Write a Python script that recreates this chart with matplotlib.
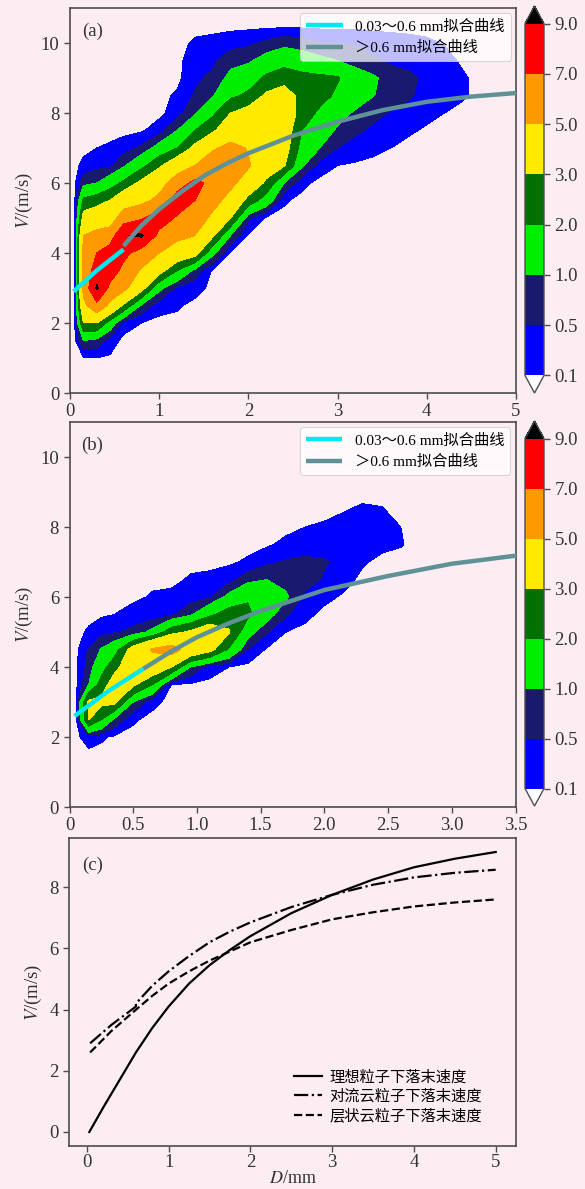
import numpy as np
import matplotlib
matplotlib.use("Agg")
import matplotlib.pyplot as plt
from matplotlib.colors import ListedColormap, BoundaryNorm
from matplotlib.cm import ScalarMappable

plt.rcParams["font.family"] = ["Liberation Serif", "Noto Sans CJK SC"]
plt.rcParams["mathtext.fontset"] = "stix"
plt.rcParams["font.size"] = 13.5

# ─── Data ─────────────────────────────────────────────────────────────────────

v_rows = np.arange(0.5, 10.51, 0.5)          # V grid (m/s)
levels = [0.1, 0.5, 1.0, 2.0, 3.0, 5.0, 7.0, 9.0]
level_colors = ["#0000ff", "#191970", "#00ee00", "#007000",
                "#ffea00", "#ff9900", "#ff0000"]

# panel (a) density columns: (D, first V, values upward in 0.5 steps)
dens_a = [
    (0.05, 0.5, []),
    (0.15, 1.0, [0.05, 1.0, 3.0, 4.5, 5.5, 5.5, 5.5, 5.0, 3.5, 2.2, 0.8, 0.2, 0.0]),
    (0.30, 1.0, [0.1, 0.8, 3.0, 6.5, 9.3, 8.0, 7.0, 5.5, 4.0, 2.5, 1.0, 0.35, 0.1, 0.0]),
    (0.45, 1.0, [0.05, 0.3, 1.5, 4.5, 6.5, 8.0, 8.0, 6.0, 4.0, 3.05, 1.5, 0.4, 0.15, 0.0]),
    (0.60, 1.5, [0.0, 0.3, 2.8, 5.5, 6.5, 7.5, 8.9, 6.0, 4.0, 2.2, 0.9, 0.3, 0.0]),
    (0.80, 2.0, [0.1, 0.9, 3.5, 4.8, 6.2, 9.3, 6.8, 4.5, 3.3, 1.7, 0.6, 0.05, 0.0]),
    (1.00, 2.0, [0.0, 0.25, 1.2, 3.5, 5.0, 6.5, 8.0, 5.5, 4.2, 2.8, 1.3, 0.3, 0.0]),
    (1.20, 2.0, [0.0, 0.15, 0.4, 2.0, 4.0, 5.5, 6.8, 8.0, 6.0, 4.0, 2.0, 1.0, 0.3, 0.15, 0.0]),
    (1.40, 2.5, [0.0, 0.25, 0.8, 3.5, 5.0, 6.3, 7.0, 7.5, 5.0, 3.3, 2.0, 0.9, 0.55, 0.4, 0.3, 0.15, 0.0]),
    (1.60, 3.0, [0.0, 0.05, 1.2, 3.2, 4.5, 5.8, 6.5, 6.0, 4.8, 2.8, 1.8, 0.95, 0.6, 0.4, 0.2, 0.0]),
    (1.80, 3.5, [0.0, 0.05, 1.0, 3.0, 4.2, 5.5, 6.2, 5.5, 4.0, 3.0, 1.8, 1.2, 0.8, 0.3, 0.0]),
    (2.00, 4.0, [0.0, 0.05, 0.6, 2.6, 4.0, 5.2, 4.9, 4.2, 3.5, 2.2, 1.5, 0.9, 0.4, 0.0]),
    (2.20, 4.5, [0.0, 0.05, 1.5, 2.8, 3.6, 4.0, 4.0, 3.8, 3.2, 2.2, 1.3, 0.6, 0.0]),
    (2.40, 5.0, [0.0, 0.15, 1.0, 3.1, 3.6, 3.8, 3.8, 3.5, 2.6, 1.6, 0.8, 0.0]),
    (2.60, 5.5, [0.0, 0.2, 1.1, 1.6, 2.0, 2.6, 2.7, 2.3, 1.4, 0.7, 0.0]),
    (2.80, 6.0, [0.0, 0.3, 1.0, 1.4, 1.8, 2.4, 2.2, 1.2, 0.5, 0.0]),
    (3.00, 6.0, [0.0, 0.1, 0.5, 0.9, 1.3, 1.8, 2.1, 1.0, 0.5, 0.0]),
    (3.20, 6.5, [0.05, 0.3, 0.6, 0.9, 1.4, 1.3, 0.8, 0.45, 0.0]),
    (3.40, 6.5, [0.0, 0.2, 0.4, 0.65, 1.02, 1.1, 0.6, 0.3, 0.0]),
    (3.60, 6.5, [0.0, 0.1, 0.3, 0.45, 0.8, 0.75, 0.4, 0.25, 0.0]),
    (3.80, 7.0, [0.0, 0.15, 0.35, 0.55, 0.6, 0.35, 0.2, 0.0]),
    (4.00, 7.5, [0.05, 0.2, 0.35, 0.4, 0.3, 0.15, 0.0]),
    (4.20, 7.5, [0.0, 0.1, 0.25, 0.3, 0.2, 0.08, 0.0]),
    (4.40, 8.0, [0.0, 0.15, 0.15, 0.05, 0.0]),
    (4.60, 0.5, []),
]

# panel (b) density columns
dens_b = [
    (0.05, 0.5, []),
    (0.15, 1.5, [0.0, 0.3, 3.05, 3.2, 1.0, 0.7, 0.55, 0.15, 0.0]),
    (0.25, 1.5, [0.0, 0.15, 2.0, 3.3, 2.4, 1.6, 1.05, 0.35, 0.05, 0.0]),
    (0.35, 2.0, [0.05, 0.9, 3.3, 3.6, 2.6, 1.5, 0.45, 0.1, 0.0]),
    (0.50, 2.0, [0.0, 0.15, 1.0, 3.2, 4.0, 3.6, 0.6, 0.3, 0.0]),
    (0.65, 2.5, [0.0, 0.2, 2.0, 4.0, 5.2, 1.2, 0.2, 0.15, 0.0]),
    (0.80, 3.0, [0.0, 0.1, 3.0, 5.8, 2.6, 0.4, 0.2, 0.0]),
    (0.95, 3.5, [0.05, 1.0, 4.2, 3.2, 0.9, 0.3, 0.15, 0.0]),
    (1.10, 3.5, [0.0, 0.3, 3.4, 4.0, 1.8, 0.45, 0.2, 0.0]),
    (1.25, 3.5, [0.0, 0.1, 1.9, 3.1, 2.5, 1.2, 0.3, 0.05, 0.0]),
    (1.40, 4.0, [0.0, 0.5, 1.3, 2.2, 1.9, 0.8, 0.15, 0.0]),
    (1.55, 4.5, [0.05, 0.55, 1.3, 1.6, 1.0, 0.4, 0.05, 0.0]),
    (1.70, 4.5, [0.0, 0.1, 0.55, 1.1, 0.8, 0.55, 0.2, 0.0]),
    (1.85, 5.0, [0.0, 0.2, 0.4, 0.7, 0.6, 0.3, 0.1, 0.0]),
    (2.00, 5.5, [0.0, 0.2, 0.45, 0.55, 0.3, 0.15, 0.0]),
    (2.15, 6.0, [0.05, 0.25, 0.35, 0.3, 0.2, 0.08, 0.0]),
    (2.30, 6.5, [0.0, 0.15, 0.25, 0.25, 0.15, 0.0]),
    (2.45, 7.0, [0.0, 0.2, 0.22, 0.12, 0.0]),
    (2.60, 7.0, [0.0, 0.12, 0.1, 0.0]),
    (2.75, 0.5, []),
]

# fitted curves (convective = a, stratiform = b)
conv_small_d = [0.04, 0.3, 0.6]
conv_small_v = [2.9, 3.5, 4.1]
conv_big_d = [0.6, 0.8, 1.0, 1.25, 1.5, 1.75, 2.0, 2.5, 3.0, 3.5, 4.0, 4.5, 5.0]
conv_big_v = [4.2, 4.78, 5.25, 5.75, 6.2, 6.55, 6.85, 7.35, 7.75, 8.08, 8.32, 8.47, 8.57]

strat_small_d = [0.04, 0.3, 0.58]
strat_small_v = [2.6, 3.3, 3.95]
strat_big_d = [0.58, 0.8, 1.0, 1.25, 1.5, 1.75, 2.0, 2.5, 3.0, 3.5, 4.0, 4.5, 5.0]
strat_big_v = [3.95, 4.45, 4.85, 5.25, 5.6, 5.9, 6.2, 6.6, 6.95, 7.18, 7.37, 7.5, 7.6]

ideal_d = [0.03, 0.2, 0.4, 0.6, 0.8, 1.0, 1.25, 1.5, 1.75, 2.0, 2.5, 3.0, 3.5, 4.0, 4.5, 5.0]
ideal_v = [0.0, 0.8, 1.7, 2.6, 3.4, 4.1, 4.85, 5.45, 5.95, 6.4, 7.15, 7.75, 8.25, 8.65, 8.93, 9.15]

lbl_small = "0.03～0.6 mm拟合曲线"
lbl_big = "＞0.6 mm拟合曲线"
lbl_ideal = "理想粒子下落末速度"
lbl_conv = "对流云粒子下落末速度"
lbl_strat = "层状云粒子下落末速度"

# ─── Helpers ──────────────────────────────────────────────────────────────────

BG = "#fcedf3"
EDGE = "#4d4d4d"
W, H = 585, 1189


def box(l, t, r, b):
    return [l / W, 1 - b / H, (r - l) / W, (b - t) / H]


def build_grid(columns):
    z = np.zeros((len(v_rows), len(columns)))
    for j, (_, v0, vals) in enumerate(columns):
        i0 = int(round((v0 - v_rows[0]) / 0.5))
        z[i0:i0 + len(vals), j] = vals
    return np.array([c[0] for c in columns]), z


def style(ax):
    for s in ax.spines.values():
        s.set_color(EDGE)
        s.set_linewidth(1.2)
    ax.set_facecolor("none")
    ax.tick_params(direction="out", length=4, width=1, color=EDGE, labelcolor="#333333")


cmap = ListedColormap(level_colors)
cmap.set_over("black")
cmap.set_under("white")
norm = BoundaryNorm(levels, cmap.N)


def density_panel(ax, cax, columns, xmax, tag):
    d, z = build_grid(columns)
    ax.contourf(d, v_rows, z, levels=levels, cmap=cmap, norm=norm, extend="max")
    ax.plot(conv_small_d if tag == "(a)" else strat_small_d,
            conv_small_v if tag == "(a)" else strat_small_v,
            color="#00e8f0", lw=3.2, label=lbl_small, solid_capstyle="butt", zorder=3)
    ax.plot(conv_big_d if tag == "(a)" else strat_big_d,
            conv_big_v if tag == "(a)" else strat_big_v,
            color="#5f9297", lw=3.2, label=lbl_big, solid_capstyle="butt", zorder=3)
    ax.set_xlim(0, xmax)
    ax.set_ylim(0, 11)
    ax.set_yticks([0, 2, 4, 6, 8, 10])
    ax.set_ylabel(r"$V$/(m/s)", color="#333333")
    ax.text(0.027, 0.94, tag, transform=ax.transAxes, ha="left", va="center", color="#333333")
    leg = ax.legend(loc="upper right", fontsize=11, handlelength=2.4,
                    borderaxespad=0.35, framealpha=0.75, edgecolor="#cccccc", fancybox=True)
    leg.get_frame().set_linewidth(0.8)
    style(ax)

    cb = plt.colorbar(ScalarMappable(norm=norm, cmap=cmap), cax=cax,
                      extend="both", ticks=levels, format="%.1f")
    cb.outline.set_edgecolor(EDGE)
    cb.outline.set_linewidth(1.0)
    cax.tick_params(length=4, width=1, color=EDGE, labelcolor="#333333")


# ─── Figure ───────────────────────────────────────────────────────────────────

fig = plt.figure(figsize=(W / 100, H / 100), dpi=100, facecolor=BG)

ax_a = fig.add_axes(box(70, 8, 516, 393))
cax_a = fig.add_axes(box(525, 6, 544, 393))
density_panel(ax_a, cax_a, dens_a, 5, "(a)")
ax_a.set_xticks([0, 1, 2, 3, 4, 5])

ax_b = fig.add_axes(box(69.5, 422, 515.5, 807))
cax_b = fig.add_axes(box(525, 421, 544, 806))
density_panel(ax_b, cax_b, dens_b, 3.5, "(b)")
ax_b.set_xticks([0, 0.5, 1.0, 1.5, 2.0, 2.5, 3.0, 3.5])
ax_b.set_xticklabels(["0", "0.5", "1.0", "1.5", "2.0", "2.5", "3.0", "3.5"])

ax_c = fig.add_axes(box(69, 838, 516, 1146))
ax_c.plot(ideal_d, ideal_v, color="black", lw=1.6, ls="-", label=lbl_ideal)
ax_c.plot(conv_small_d + conv_big_d, conv_small_v + conv_big_v,
          color="black", lw=1.6, ls="-.", label=lbl_conv)
ax_c.plot(strat_small_d + strat_big_d, strat_small_v + strat_big_v,
          color="black", lw=1.6, ls="--", label=lbl_strat)
ax_c.set_yticks([0, 2, 4, 6, 8])
ax_c.set_xticks([0, 1, 2, 3, 4, 5])
ax_c.tick_params(axis="x", pad=2)
ax_c.set_ylabel(r"$V$/(m/s)", color="#333333")
ax_c.set_xlabel(r"$D$/mm", color="#333333", fontsize=13, labelpad=-1)
ax_c.text(0.029, 0.91, "(c)", transform=ax_c.transAxes, ha="left", va="center", color="#333333")
ax_c.legend(loc="lower right", bbox_to_anchor=(0.955, 0.03), frameon=False,
            fontsize=11, handlelength=1.8, handletextpad=0.5, labelspacing=0.3)
style(ax_c)

fig.savefig("out.png", dpi=100, facecolor=BG)
